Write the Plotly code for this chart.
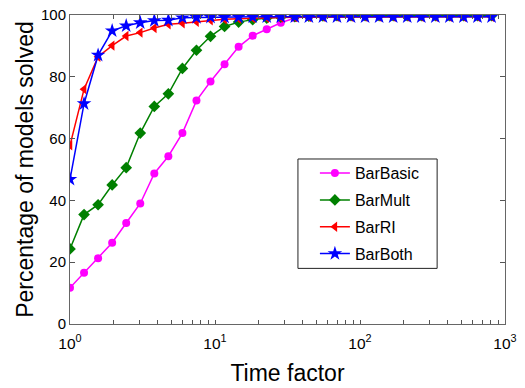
import plotly.graph_objects as go

# x positions: time factor points
time_factor = [1.25 ** k for k in range(31)]

bar_basic = [11.7, 16.6, 21.3, 26.3, 32.7, 39.0, 48.7, 54.3, 61.8, 72.3, 78.5, 84.1, 89.7, 93.3, 95.4, 97.5,
             99.0, 99.5, 99.7, 99.8, 99.9, 100, 100, 100, 100, 100, 100, 100, 100, 100, 100]
bar_mult = [24.3, 35.4, 38.6, 45.0, 50.6, 61.8, 70.4, 74.5, 82.7, 88.6, 93.1, 96.3, 97.7, 98.5, 99.0, 99.3,
            99.5, 99.6, 99.7, 99.8, 99.8, 99.8, 99.8, 99.8, 99.8, 99.8, 99.8, 99.8, 99.8, 99.8, 99.8]
bar_ri = [57.8, 76.0, 86.5, 90.1, 93.2, 94.3, 95.8, 97.0, 97.3, 97.8, 98.3, 98.6, 98.8, 99.0, 99.1, 99.2,
          99.3, 99.3, 99.4, 99.4, 99.4, 99.4, 99.4, 99.4, 99.4, 99.4, 99.4, 99.4, 99.4, 99.4, 99.4]
bar_both = [46.8, 71.3, 87.0, 94.9, 96.5, 97.5, 98.2, 98.3, 99.1, 99.2, 99.3, 99.3, 99.3, 99.4, 99.4, 99.4,
            99.4, 99.4, 99.4, 99.4, 99.4, 99.4, 99.4, 99.4, 99.4, 99.4, 99.4, 99.4, 99.4, 99.4, 99.4]

series = [
    ("BarBasic", bar_basic, "#ff00ff", "circle", 8),
    ("BarMult", bar_mult, "#008000", "diamond", 9),
    ("BarRI", bar_ri, "#ff0000", "triangle-left", 9),
    ("BarBoth", bar_both, "#0000ff", "star", 11),
]

x_major = [1, 10, 100, 1000]
x_major_text = ["10<sup>0</sup>", "10<sup>1</sup>", "10<sup>2</sup>", "10<sup>3</sup>"]
x_tickvals = [m * d for d in (1, 10, 100) for m in range(1, 10)] + [1000]
x_ticktext = [x_major_text[x_major.index(v)] if v in x_major else "" for v in x_tickvals]
y_tickvals = [0, 20, 40, 60, 80, 100]

fig = go.Figure()
for i, (name, vals, color, sym, sz) in enumerate(series):
    fig.add_trace(go.Scatter(
        x=time_factor, y=vals, name=name, mode="lines+markers",
        line=dict(color=color, width=1.5),
        marker=dict(symbol=sym, size=sz, color=color),
        legendgroup=f"g{i}",
    ))

# legend frame
fig.add_shape(type="rect", xref="paper", yref="paper",
              x0=0.524, x1=0.844, y0=0.18, y1=0.534,
              line=dict(color="#222", width=1), fillcolor="white", layer="below")

fig.update_layout(
    width=517, height=380,
    margin=dict(l=62, r=20, t=7, b=64, autoexpand=False),
    paper_bgcolor="white", plot_bgcolor="white",
    font=dict(family="Liberation Sans, Arial, sans-serif", size=15, color="black"),
    showlegend=True,
    legend=dict(
        x=0.563, y=0.543, xanchor="left", yanchor="top",
        bgcolor="rgba(0,0,0,0)", borderwidth=0,
        font=dict(size=16), tracegroupgap=3,
    ),
    xaxis=dict(
        type="log", range=[0, 3],
        tickmode="array", tickvals=x_tickvals, ticktext=x_ticktext,
        ticks="inside", ticklen=4, tickcolor="#555",
        showline=True, linecolor="#666", linewidth=1, mirror="ticks",
        showgrid=False, zeroline=False, automargin=False,
        ticklabelstandoff=5, ticklabeloverflow="allow",
        title=dict(text="Time factor", font=dict(size=23), standoff=14),
        tickfont=dict(size=15.5),
    ),
    yaxis=dict(
        range=[0, 100], tickvals=y_tickvals,
        ticks="inside", ticklen=5, tickcolor="#555",
        showline=True, linecolor="#666", linewidth=1, mirror="ticks",
        showgrid=False, zeroline=False, automargin=False,
        ticklabeloverflow="allow",
        title=dict(text="Percentage of models solved", font=dict(size=23), standoff=0),
        tickfont=dict(size=15),
    ),
)

fig.write_html("out.html")
